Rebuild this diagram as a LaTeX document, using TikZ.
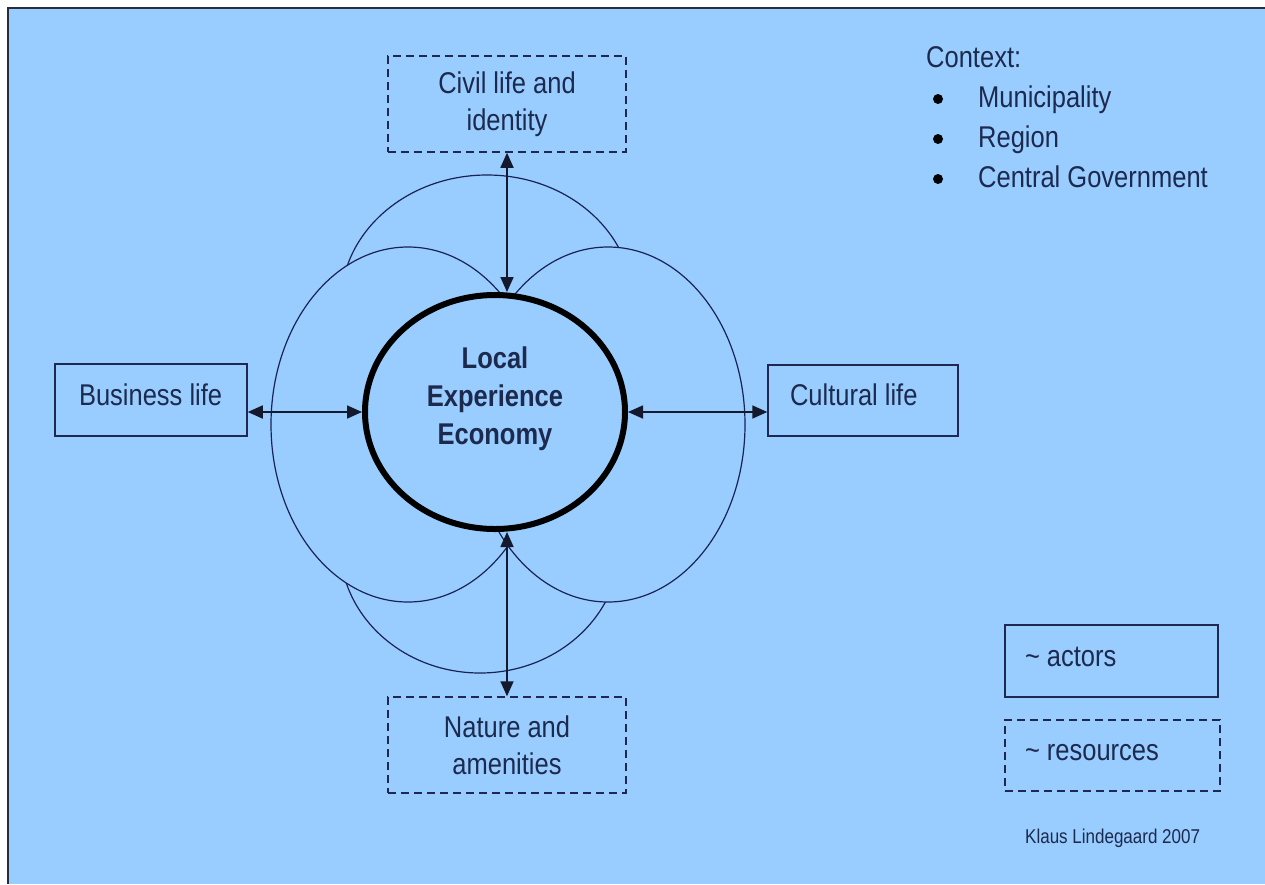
\documentclass[tikz,border=0pt]{standalone}
\usepackage{fontspec}
\setmainfont{Liberation Sans}[FakeStretch=0.85]
\usetikzlibrary{arrows.meta,shapes.geometric}
\definecolor{bg}{HTML}{99CCFF}
\definecolor{ink}{RGB}{28,42,78}
\definecolor{boxc}{RGB}{30,40,80}
\definecolor{linec}{RGB}{25,35,85}
\definecolor{arrc}{RGB}{20,25,45}
\definecolor{framec}{RGB}{40,45,60}
\begin{document}
\begin{tikzpicture}[x=1pt,y=-1pt,
  lobe/.style={fill=bg, draw=linec, line width=1.2pt},
  core/.style={ellipse, draw=black, fill=bg, line width=6pt, minimum width=260pt, minimum height=234pt, inner sep=0pt},
  solidbox/.style={draw=boxc, line width=1.5pt, text=ink, font=\fontsize{30}{37}\selectfont, align=flush left, inner ysep=0pt, text height=22pt, text depth=12pt, minimum height=72pt},
  dashbox/.style={draw=boxc, line width=1.5pt, dash pattern=on 8pt off 5pt, text=ink, font=\fontsize{30}{37}\selectfont, align=center, minimum width=238pt, minimum height=96pt, inner sep=0pt},
  link/.style={draw=arrc, line width=1.7pt, {Triangle[length=15pt,width=13pt]}-{Triangle[length=15pt,width=13pt]}},
  txt/.style={text=ink, font=\fontsize{30}{37}\selectfont, inner sep=0pt, anchor=base west},
  dot/.style={circle, fill=black, minimum size=10pt, inner sep=0pt},
]
\useasboundingbox (0,0) rectangle (1265,884);
\fill[white] (0,0) rectangle (1265,884);
\fill[bg] (8,8) rectangle (1265,884);
\draw[framec, line width=2pt] (8,884) -- (8,8) -- (1265,8);

% lobes
\draw[lobe] (487,303) ellipse [x radius=146pt, y radius=128pt];
\draw[lobe] (480,545) ellipse [x radius=140pt, y radius=128pt];
\draw[lobe] (408,424.5) ellipse [x radius=137pt, y radius=177.5pt];
\draw[lobe] (608,424.5) ellipse [x radius=137pt, y radius=177.5pt];

% core
\node[core] (core) at (495,412) {};
\node[font=\bfseries\fontsize{30}{38}\selectfont, text=ink, align=center, inner sep=0pt] (title) at (495,399) {Local\\Experience\\Economy};

% boxes
\node[solidbox, text width=160pt, inner xsep=16pt] (business) at (151,400) {\hspace*{8pt}Business life};
\node[solidbox, text width=150pt, inner xsep=20pt, minimum height=71pt] (cultural) at (863,400.5) {\hspace*{2pt}Cultural life};
\node[dashbox] (civil) at (507,104) {Civil life and\\identity};
\node[dashbox] (nature) at (507,745) {Nature and\\amenities};

% connectors
\draw[link] (business.east |- core.west) -- (core.west);
\draw[link] (core.east) -- (cultural.west |- core.east);
\draw[link] (civil.south) -- (civil.south |- core.north);
\draw[link] (nature.north |- core.south) -- (nature.north);

% context
\node[txt] (ctxhead) at (926,67) {Context:};
\node[dot] (bul1) at (938,99) {};
\node[txt] (ctx1) at (978,107) {Municipality};
\node[dot] (bul2) at (938,139) {};
\node[txt] (ctx2) at (978,147) {Region};
\node[dot] (bul3) at (938,179) {};
\node[txt] (ctx3) at (978,187) {Central Government};

% legend
\node[solidbox, text width=177pt, inner xsep=18pt] (actors) at (1111.5,661) {\hspace*{2pt}\textasciitilde{} actors};
\node[solidbox, dash pattern=on 8pt off 5pt, text width=179pt, inner xsep=18pt, minimum height=71pt] (resources) at (1112.5,755.5) {\hspace*{2pt}\textasciitilde{} resources};
\node[txt, font=\fontsize{20}{24}\selectfont] (credit) at (1025,843) {Klaus Lindegaard 2007};
\end{tikzpicture}
\end{document}
